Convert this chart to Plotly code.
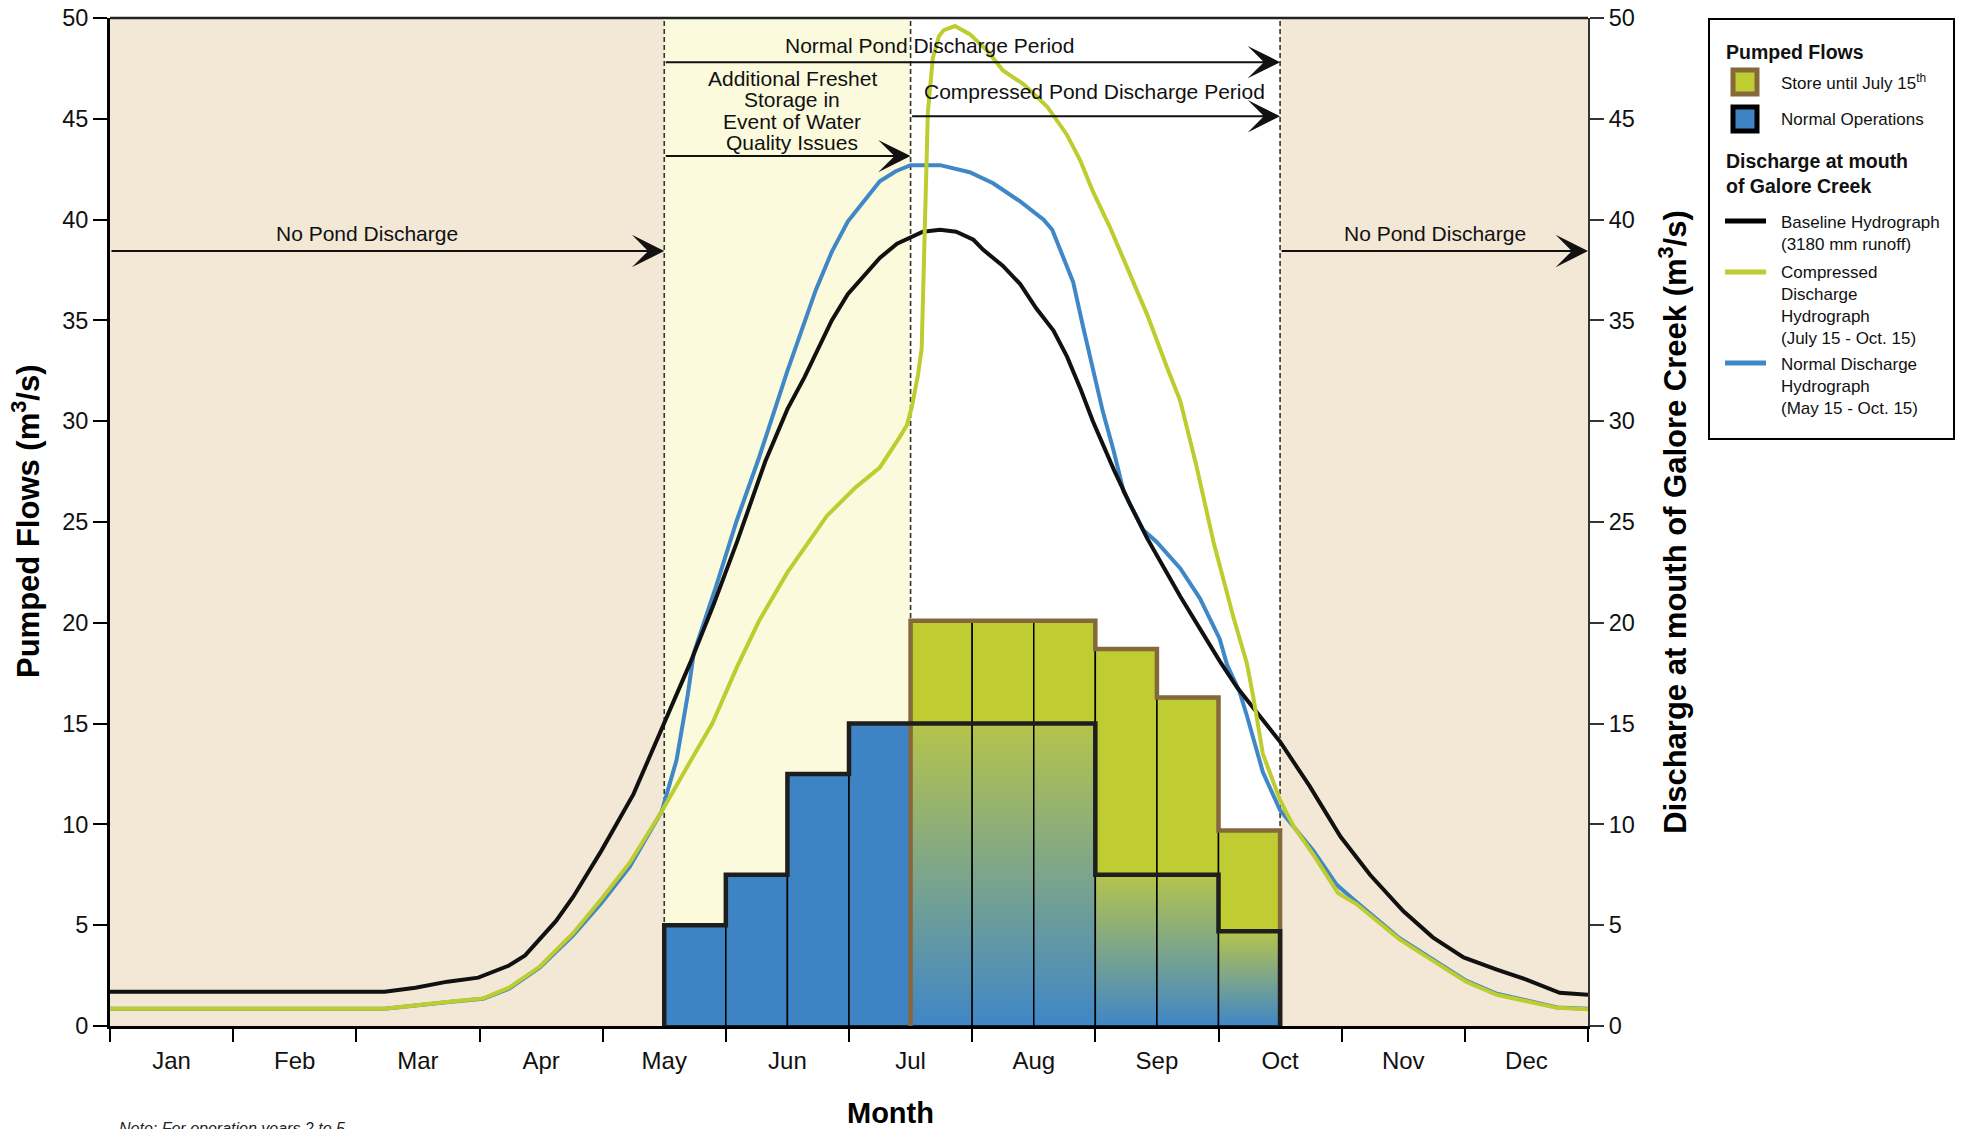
import plotly.graph_objects as go

# ---------------- data ----------------
months = ['Jan', 'Feb', 'Mar', 'Apr', 'May', 'Jun', 'Jul', 'Aug', 'Sep', 'Oct', 'Nov', 'Dec']

# half-month pumping periods (start time in months since Jan 1), May 15 -> Oct 15
period_start = [4.5, 5.0, 5.5, 6.0, 6.5, 7.0, 7.5, 8.0, 8.5, 9.0]
period_len = 0.5
normal_ops = [5.0, 7.5, 12.5, 15.0, 15.0, 15.0, 15.0, 7.5, 7.5, 4.7]
store_until_jul15 = [0, 0, 0, 0, 20.1, 20.1, 20.1, 18.7, 16.3, 9.7]

# Discharge at mouth of Galore Creek (time in months)
baseline_t = [0, 0.5, 1, 1.5, 2, 2.23, 2.48, 2.74, 2.99, 3.24, 3.37, 3.62, 3.76, 3.99, 4.25, 4.48,
              4.71, 4.90, 5.09, 5.32, 5.50, 5.64, 5.86, 5.99, 6.25, 6.39, 6.60, 6.74, 6.87, 7.01,
              7.09, 7.25, 7.39, 7.52, 7.66, 7.77, 7.88, 7.98, 8.15, 8.28, 8.42, 8.55, 8.69, 8.85,
              9.01, 9.15, 9.50, 9.74, 9.99, 10.23, 10.50, 10.74, 10.99, 11.26, 11.50, 11.77, 12.0]
baseline_q = [1.7, 1.7, 1.7, 1.7, 1.7, 1.7, 1.9, 2.2, 2.4, 3.0, 3.5, 5.2, 6.4, 8.7, 11.5, 14.7,
              18.0, 20.9, 24.0, 28.0, 30.6, 32.2, 35.0, 36.3, 38.1, 38.8, 39.4, 39.5, 39.4, 39.0,
              38.5, 37.7, 36.8, 35.6, 34.5, 33.2, 31.6, 30.0, 27.6, 25.9, 24.2, 22.8, 21.3, 19.7,
              18.1, 16.8, 14.1, 11.9, 9.4, 7.5, 5.7, 4.4, 3.4, 2.8, 2.3, 1.65, 1.55]

normal_t = [0, 2.23, 2.77, 3.03, 3.24, 3.49, 3.76, 3.99, 4.22, 4.48, 4.60, 4.69, 4.74, 4.92, 5.09,
            5.27, 5.50, 5.73, 5.86, 5.99, 6.25, 6.38, 6.50, 6.74, 6.98, 7.17, 7.39, 7.58, 7.65,
            7.74, 7.82, 7.90, 7.98, 8.06, 8.15, 8.23, 8.39, 8.50, 8.69, 8.85, 9.01, 9.07, 9.17,
            9.23, 9.36, 9.50, 9.77, 9.96, 10.12, 10.47, 10.74, 11.01, 11.26, 11.75, 12.0]
normal_q = [0.86, 0.86, 1.2, 1.35, 1.85, 2.9, 4.5, 6.1, 7.9, 10.65, 13.2, 16.4, 18.5, 21.8, 25.1,
            28.2, 32.5, 36.5, 38.4, 39.9, 41.9, 42.4, 42.7, 42.7, 42.35, 41.8, 40.9, 40.0, 39.5,
            38.1, 36.9, 34.7, 32.5, 30.5, 28.5, 26.5, 24.6, 24.0, 22.7, 21.2, 19.2, 17.9, 16.6,
            15.4, 12.6, 10.7, 8.7, 7.0, 6.15, 4.35, 3.3, 2.25, 1.6, 0.92, 0.85]

compressed_t = [0, 2.23, 2.77, 3.03, 3.24, 3.49, 3.76, 3.99, 4.22, 4.48, 4.69, 4.89, 5.09, 5.27,
                5.50, 5.82, 6.05, 6.25, 6.41, 6.47, 6.51, 6.56, 6.59, 6.615, 6.64, 6.68, 6.73,
                6.77, 6.86, 6.98, 7.12, 7.25, 7.42, 7.61, 7.77, 7.88, 7.98, 8.12, 8.26, 8.42,
                8.58, 8.69, 8.82, 8.96, 9.12, 9.23, 9.28, 9.36, 9.50, 9.61, 9.77, 9.97, 10.12,
                10.47, 10.74, 11.01, 11.26, 11.75, 12.0]
compressed_q = [0.86, 0.86, 1.22, 1.37, 1.9, 2.95, 4.6, 6.3, 8.1, 10.65, 12.9, 15.0, 17.8, 20.1,
                22.5, 25.3, 26.7, 27.7, 29.2, 29.8, 30.7, 32.3, 33.6, 39.5, 45.3, 48.0, 49.1,
                49.4, 49.6, 49.2, 48.4, 47.4, 46.7, 45.6, 44.2, 42.9, 41.4, 39.6, 37.6, 35.3,
                32.7, 31.0, 27.8, 24.0, 20.3, 18.0, 16.4, 13.5, 11.2, 9.9, 8.5, 6.6, 6.05,
                4.3, 3.24, 2.2, 1.55, 0.9, 0.83]

y_ticks = [0, 5, 10, 15, 20, 25, 30, 35, 40, 45, 50]

freshet_lines = ['Additional Freshet', 'Storage in', 'Event of Water', 'Quality Issues']

# ---------------- styling ----------------
FONT = 'Liberation Sans, Arial, Helvetica, sans-serif'
GREEN = '#BFCD32'
BROWN = '#85693B'
BLUE_BAR = '#3E84C5'
BLUE_LINE = '#3F87C7'
GREEN_LINE = '#BDCC2E'
BEIGE = '#F3E8D6'
LIGHTYELLOW = '#FBFADC'

W, H = 1965, 1129
OFF = 8                       # page body offset of the rendered figure
L, R, T, B = 110, 1588, 18, 1026   # target plot area (screen pixels)


def px(xp):
    return (xp - L) / (R - L)


def py(yp):
    return (B - yp) / (B - T)


fig = go.Figure()

# ---- pumped flow bars ----
store_x = [s + period_len / 2 for s, v in zip(period_start, store_until_jul15) if v > 0]
store_y = [v for v in store_until_jul15 if v > 0]
fig.add_trace(go.Bar(x=store_x, y=store_y, width=period_len,
                     marker=dict(color=GREEN, line=dict(color='black', width=1.5)),
                     name='Store until July 15th', showlegend=False, hoverinfo='skip'))

blue_x = [s + period_len / 2 for s, v in zip(period_start, store_until_jul15) if v == 0]
blue_y = [n for n, v in zip(normal_ops, store_until_jul15) if v == 0]
fig.add_trace(go.Bar(x=blue_x, y=blue_y, width=period_len,
                     marker=dict(color=BLUE_BAR, line=dict(color='black', width=1.5)),
                     name='Normal Operations', showlegend=False, hoverinfo='skip'))

# gradient (normal operations overlapping the store bars)
for s, n, v in zip(period_start, normal_ops, store_until_jul15):
    if v > 0:
        x0, x1 = s, s + period_len
        fig.add_trace(go.Scatter(
            x=[x0, x0, x1, x1, x0], y=[0, n, n, 0, 0], mode='lines', fill='toself',
            fillgradient=dict(type='vertical',
                              colorscale=[[0, '#3F86C6'], [0.5, '#7CA58B'], [1, '#B5C44B']]),
            line=dict(color='black', width=1.5), showlegend=False, hoverinfo='skip'))


def step_outline(starts, vals):
    xs, ys = [], []
    sel = [(s, v) for s, v in zip(starts, vals) if v > 0]
    xs.append(sel[0][0]); ys.append(0)
    for s, v in sel:
        xs += [s, s + period_len]
        ys += [v, v]
    xs.append(sel[-1][0] + period_len); ys.append(0)
    return xs, ys


bx, by = step_outline(period_start, store_until_jul15)
fig.add_trace(go.Scatter(x=bx, y=by, mode='lines', line=dict(color=BROWN, width=4.5),
                         showlegend=False, hoverinfo='skip'))
nx, ny = step_outline(period_start, normal_ops)
fig.add_trace(go.Scatter(x=nx, y=ny, mode='lines', line=dict(color='#1E1E1E', width=4.5),
                         showlegend=False, hoverinfo='skip'))

# ---- discharge hydrographs (right axis) ----
fig.add_trace(go.Scatter(x=normal_t, y=normal_q, mode='lines', yaxis='y2',
                         line=dict(color=BLUE_LINE, width=4), name='Normal Discharge Hydrograph',
                         showlegend=False))
fig.add_trace(go.Scatter(x=baseline_t, y=baseline_q, mode='lines', yaxis='y2',
                         line=dict(color='#111111', width=4), name='Baseline Hydrograph',
                         showlegend=False))
fig.add_trace(go.Scatter(x=compressed_t, y=compressed_q, mode='lines', yaxis='y2',
                         line=dict(color=GREEN_LINE, width=4), name='Compressed Discharge Hydrograph',
                         showlegend=False))

# ---------------- shapes ----------------
shapes = [
    dict(type='rect', xref='x', yref='y', x0=0, x1=4.5, y0=0, y1=50, fillcolor=BEIGE,
         line=dict(width=0), layer='below'),
    dict(type='rect', xref='x', yref='y', x0=4.5, x1=6.5, y0=0, y1=50, fillcolor=LIGHTYELLOW,
         line=dict(width=0), layer='below'),
    dict(type='rect', xref='x', yref='y', x0=9.5, x1=12, y0=0, y1=50, fillcolor=BEIGE,
         line=dict(width=0), layer='below'),
]
for xv in [4.5, 6.5, 9.5]:
    shapes.append(dict(type='line', xref='x', yref='y', x0=xv, x1=xv, y0=0, y1=50,
                       line=dict(color='#333333', width=1.6, dash='5px,3px'), layer='below'))
shapes.append(dict(type='line', xref='paper', yref='paper', x0=0, x1=1, y0=1, y1=1,
                   line=dict(color='#222222', width=2.5)))

# legend
shapes.append(dict(type='rect', xref='paper', yref='paper', x0=px(1709), x1=px(1954),
                   y0=py(439), y1=py(19), line=dict(color='black', width=2), fillcolor='white'))
shapes.append(dict(type='rect', xref='paper', yref='paper', x0=px(1733), x1=px(1757),
                   y0=py(94), y1=py(70), line=dict(color=BROWN, width=5), fillcolor=GREEN))
shapes.append(dict(type='rect', xref='paper', yref='paper', x0=px(1733), x1=px(1757),
                   y0=py(131), y1=py(107), line=dict(color='black', width=5), fillcolor=BLUE_BAR))
for yy, col in [(221, '#000000'), (272, GREEN_LINE), (363, BLUE_LINE)]:
    shapes.append(dict(type='line', xref='paper', yref='paper', x0=px(1725), x1=px(1766),
                       y0=py(yy), y1=py(yy), line=dict(color=col, width=5)))

# ---------------- annotations ----------------
ann = []
TXT = dict(family=FONT, size=21, color='#111111')


def arrow(x_from, x_to, yv):
    ann.append(dict(x=x_to, y=yv, ax=x_from, ay=yv, xref='x', yref='y', axref='x', ayref='y',
                    text='', showarrow=True, arrowhead=3, arrowsize=2.7, arrowwidth=2,
                    arrowcolor='#111111', standoff=0))


arrow(0, 4.5, 38.44)
arrow(9.5, 12, 38.44)
arrow(4.5, 9.5, 47.81)
arrow(6.5, 9.5, 45.13)
arrow(4.5, 6.5, 43.15)

ann.append(dict(x=2.09, y=39.3, xref='x', yref='y', text='No Pond Discharge', showarrow=False,
                font=TXT))
ann.append(dict(x=10.76, y=39.3, xref='x', yref='y', text='No Pond Discharge', showarrow=False,
                font=TXT))
ann.append(dict(x=6.65, y=48.64, xref='x', yref='y', text='Normal Pond Discharge Period',
                showarrow=False, font=TXT))
ann.append(dict(x=7.99, y=46.37, xref='x', yref='y', text='Compressed Pond Discharge Period',
                showarrow=False, font=TXT))
for i, line in enumerate(freshet_lines):
    ann.append(dict(x=5.54, y=py(78.5 + 21.4 * i), xref='x', yref='paper', yanchor='middle',
                    text=line, showarrow=False, font=TXT))

# left axis title (as rotated annotation so it can sit close to the page edge)
ann.append(dict(x=px(26), y=py(521), xref='paper', yref='paper', xanchor='center',
                yanchor='middle', textangle=-90, text='<b>Pumped Flows (m<sup>3</sup>/s)</b>',
                showarrow=False, font=dict(family=FONT, size=31, color='black')))
# axis title "Month"
ann.append(dict(x=px(890), y=py(1113), xref='paper', yref='paper', yanchor='middle',
                text='<b>Month</b>', showarrow=False,
                font=dict(family=FONT, size=29, color='black')))
# note (cut off at the bottom of the page, as in the original)
ann.append(dict(x=px(117), y=py(1118), xref='paper', yref='paper', xanchor='left', yanchor='top',
                text='<i>Note: For operation years 2 to 5</i>', showarrow=False,
                font=dict(family=FONT, size=16, color='#222222')))

# legend text
LEG = dict(family=FONT, size=17, color='#111111')
LEGB = dict(family=FONT, size=19.5, color='#111111')
ann.append(dict(x=px(1724), y=py(52), xref='paper', yref='paper', xanchor='left', yanchor='middle',
                text='<b>Pumped Flows</b>', showarrow=False, font=LEGB))
ann.append(dict(x=px(1779), y=py(82), xref='paper', yref='paper', xanchor='left', yanchor='middle',
                text='Store until July 15<sup>th</sup>', showarrow=False, font=LEG))
ann.append(dict(x=px(1779), y=py(120), xref='paper', yref='paper', xanchor='left', yanchor='middle',
                text='Normal Operations', showarrow=False, font=LEG))
ann.append(dict(x=px(1724), y=py(148), xref='paper', yref='paper', xanchor='left', yanchor='top',
                text='<b>Discharge at mouth</b><br><b>of Galore Creek</b>', showarrow=False,
                font=LEGB, align='left'))
ann.append(dict(x=px(1779), y=py(211), xref='paper', yref='paper', xanchor='left', yanchor='top',
                text='Baseline Hydrograph<br>(3180 mm runoff)', showarrow=False, font=LEG,
                align='left'))
ann.append(dict(x=px(1779), y=py(261), xref='paper', yref='paper', xanchor='left', yanchor='top',
                text='Compressed<br>Discharge<br>Hydrograph<br>(July 15 - Oct. 15)', showarrow=False,
                font=LEG, align='left'))
ann.append(dict(x=px(1779), y=py(353), xref='paper', yref='paper', xanchor='left', yanchor='top',
                text='Normal Discharge<br>Hydrograph<br>(May 15 - Oct. 15)', showarrow=False,
                font=LEG, align='left'))

TICKFONT = dict(family=FONT, size=23.5, color='#111111')

fig.update_layout(
    width=W, height=H,
    margin=dict(l=L - OFF, r=W - (R - OFF), t=T - OFF, b=H - (B - OFF), pad=0),
    paper_bgcolor='white', plot_bgcolor='white',
    barmode='overlay', showlegend=False,
    font=dict(family=FONT, color='#111111'),
    shapes=shapes, annotations=ann,
    xaxis=dict(range=[0, 12], showgrid=False, zeroline=False, showline=True, linecolor='black',
               linewidth=3, tickmode='array', tickvals=[i + 0.5 for i in range(12)],
               ticktext=months, ticks='outside', ticklen=11, tickcolor='rgba(0,0,0,0)',
               tickfont=dict(family=FONT, size=24, color='#111111'), automargin=False,
               ticklabeloverflow='allow',
               minor=dict(tickmode='array', tickvals=list(range(13)), ticks='outside', ticklen=13,
                          tickwidth=2, tickcolor='black', showgrid=False)),
    yaxis=dict(range=[0, 50], showgrid=False, zeroline=False, showline=True, linecolor='black',
               linewidth=3, tickmode='array', tickvals=y_ticks, ticks='outside', ticklen=14,
               tickwidth=2, tickcolor='black', automargin=False, ticklabeloverflow='allow',
               tickfont=TICKFONT),
    yaxis2=dict(range=[0, 50], overlaying='y', side='right', showgrid=False, zeroline=False,
                showline=True, linecolor='#333333', linewidth=2, tickmode='array',
                tickvals=y_ticks, ticks='outside', ticklen=14, tickwidth=2, tickcolor='#333333',
                automargin=False, ticklabeloverflow='allow',
                tickfont=TICKFONT,
                title=dict(text='<b>Discharge at mouth of Galore Creek (m<sup>3</sup>/s)</b>',
                           standoff=30, font=dict(family=FONT, size=31, color='black'))),
)

fig.write_html('out.html')
